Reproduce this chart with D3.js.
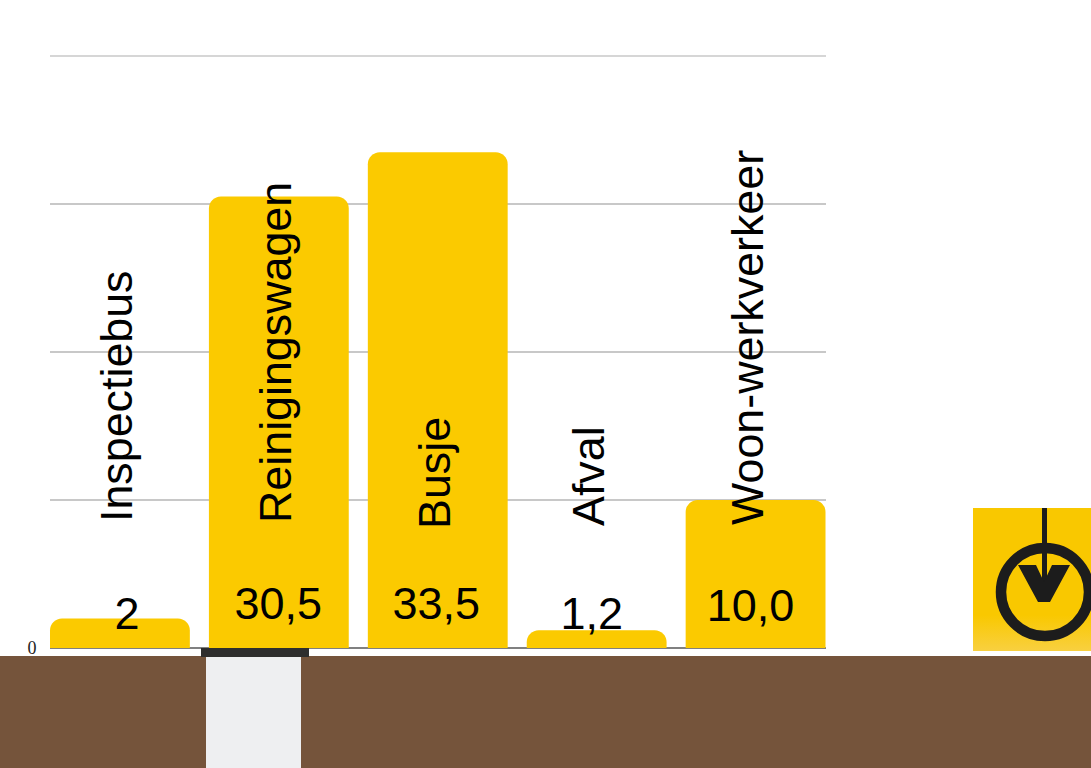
<!DOCTYPE html>
<html><head><meta charset="utf-8">
<script src="https://cdn.jsdelivr.net/npm/d3@7"></script>
<style>html,body{margin:0;padding:0;background:#fff}svg{display:block}text{font-family:"Liberation Sans",Arial,sans-serif;fill:#000}</style>
</head><body><div id="c"></div>
<script>
const categories=["Inspectiebus","Reinigingswagen","Busje","Afval","Woon-werkverkeer"];
const values=[2,30.5,33.5,1.2,10.0];
const valueLabels=["2","30,5","33,5","1,2","10,0"];
const gridTicks=[10,20,30,40];
const zeroTick=["0"];
const valueShiftX=[7,-0.5,-1.5,-5,-5];
const valueBase=[629,619,619,629,621];
const nameBottom=[522,523,529,526,525];
const nameShiftX=[12.5,12.5,12.5,7.5,7.5];

const W=1091,H=768;
const svg=d3.select("#c").append("svg").attr("width",W).attr("height",H);
const y=d3.scaleLinear().domain([0,40]).range([648,56]);
const x=d3.scaleBand().domain(categories).range([50,825.5]).paddingInner(0.12).paddingOuter(0);

// ground
svg.append("rect").attr("x",0).attr("y",656).attr("width",W).attr("height",112).attr("fill","#75543b");
svg.append("rect").attr("x",206).attr("y",656).attr("width",95).attr("height",112).attr("fill","#eeeff1");

// grid
svg.append("g").selectAll("line").data(gridTicks).join("line")
 .attr("x1",50).attr("x2",826).attr("y1",d=>y(d)).attr("y2",d=>y(d))
 .attr("stroke","#c8c8c8").attr("stroke-width",d=>d===40?1.3:2);
// baseline
svg.append("line").attr("x1",50).attr("x2",826).attr("y1",y(0)).attr("y2",y(0)).attr("stroke","#808080").attr("stroke-width",2);
svg.append("text").attr("x",32).attr("y",654).attr("text-anchor","middle").style("font-family","'Liberation Serif',serif").style("font-size","18px").style("fill","#222").text(zeroTick[0]);

// bars
const r=12;
svg.append("g").selectAll("path").data(categories).join("path")
 .attr("fill","#fbca00")
 .attr("d",(c,i)=>{
   const x0=x(c),x1=x0+x.bandwidth(),t=y(values[i]),b=y(0),rr=Math.min(r,b-t);
   return `M${x0},${b}V${t+rr}A${rr},${rr} 0 0 1 ${x0+rr},${t}H${x1-rr}A${rr},${rr} 0 0 1 ${x1},${t+rr}V${b}Z`;
 });

// manhole cover bar
svg.append("rect").attr("x",201).attr("y",648).attr("width",108).attr("height",9).attr("fill","#2e2e2e");

// value labels
svg.append("g").selectAll("text").data(valueLabels).join("text")
 .attr("x",(d,i)=>x(categories[i])+x.bandwidth()/2+valueShiftX[i])
 .attr("y",(d,i)=>valueBase[i])
 .attr("text-anchor","middle").style("font-size","45px").text(d=>d);

// rotated names
svg.append("g").selectAll("text").data(categories).join("text")
 .attr("transform",(c,i)=>`translate(${x(c)+x.bandwidth()/2+nameShiftX[i]},${nameBottom[i]}) rotate(-90)`)
 .attr("text-anchor","start").style("font-size","44.8px").text(c=>c);

// icon
const defs=svg.append("defs");
const g=defs.append("linearGradient").attr("id","ig").attr("x1",0).attr("x2",0).attr("y1",0).attr("y2",1);
g.append("stop").attr("offset","0.75").attr("stop-color","#f9c800");
g.append("stop").attr("offset","1").attr("stop-color","#f8d040");
const icon=svg.append("g");
icon.append("rect").attr("x",973).attr("y",508).attr("width",118).attr("height",143).attr("fill","url(#ig)");
icon.append("circle").attr("cx",1045).attr("cy",592).attr("r",44).attr("fill","none").attr("stroke","#1c1c1c").attr("stroke-width",10.5);
icon.append("line").attr("x1",1044.5).attr("x2",1044.5).attr("y1",508).attr("y2",585).attr("stroke","#1c1c1c").attr("stroke-width",5);
icon.append("path").attr("fill","#1c1c1c").attr("d","M1018,565L1036,565L1044,582L1052,565L1070,565L1050,602L1038,602Z");
</script></body></html>
